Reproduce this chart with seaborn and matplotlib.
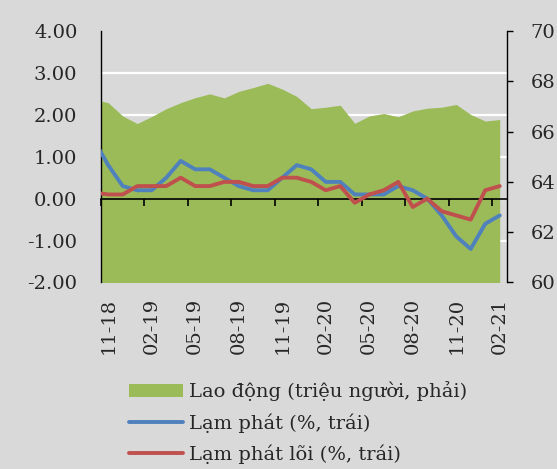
import numpy as np
import pandas as pd
import matplotlib
matplotlib.use("Agg")
import matplotlib.pyplot as plt
import seaborn as sns
from matplotlib.patches import Patch
from matplotlib.lines import Line2D

# monthly data, Oct-18 is only partly visible at the left edge
months = ["10-18", "11-18", "12-18", "01-19", "02-19", "03-19", "04-19", "05-19",
          "06-19", "07-19", "08-19", "09-19", "10-19", "11-19", "12-19", "01-20",
          "02-20", "03-20", "04-20", "05-20", "06-20", "07-20", "08-20", "09-20",
          "10-20", "11-20", "12-20", "01-21", "02-21"]
labor = [67.28, 67.15, 66.62, 66.32, 66.60, 66.91, 67.15, 67.35, 67.50, 67.34,
         67.60, 67.75, 67.92, 67.69, 67.40, 66.91, 66.97, 67.05, 66.33, 66.62,
         66.72, 66.59, 66.82, 66.93, 66.97, 67.08, 66.68, 66.42, 66.48]
inflation = [1.4, 0.8, 0.3, 0.2, 0.2, 0.5, 0.9, 0.7, 0.7, 0.5, 0.3, 0.2, 0.2,
             0.5, 0.8, 0.7, 0.4, 0.4, 0.1, 0.1, 0.1, 0.3, 0.2, 0.0, -0.4,
             -0.9, -1.2, -0.6, -0.4]
core = [0.15, 0.1, 0.1, 0.3, 0.3, 0.3, 0.5, 0.3, 0.3, 0.4, 0.4, 0.3, 0.3,
        0.5, 0.5, 0.4, 0.2, 0.3, -0.1, 0.1, 0.2, 0.4, -0.2, 0.0, -0.3,
        -0.4, -0.5, 0.2, 0.3]
tick_labels = ["11-18", "02-19", "05-19", "08-19", "11-19",
               "02-20", "05-20", "08-20", "11-20", "02-21"]
left_ticks = [-2, -1, 0, 1, 2, 3, 4]
right_ticks = [60, 62, 64, 66, 68, 70]

BG = "#D9D9D9"
GREEN = "#9BBB59"
BLUE = "#4F81BD"
RED = "#C0504D"

sns.set_style("white")
plt.rcParams["font.family"] = ["DejaVu Serif"]
FS = 14

df = pd.DataFrame({"month": months, "labor": labor,
                   "inflation": inflation, "core": core})
# points sit in the middle of each month, month boundaries at integers
df["pos"] = np.arange(len(df)) - 0.5

fig = plt.figure(figsize=(5.57, 4.69), dpi=100, facecolor=BG)
ax = fig.add_axes([0.1813, 0.3977, 0.7289, 0.5362])
ax2 = ax.twinx()
ax.set_zorder(ax2.get_zorder() + 1)
ax.patch.set_visible(False)
ax2.set_facecolor(BG)

# labour force area on the right axis
ax2.fill_between(df["pos"], 60, df["labor"], color=GREEN, lw=0, zorder=2)
ax2.set_ylim(60, 70)
ax2.set_yticks(right_ticks, labels=[str(t) for t in right_ticks], fontsize=FS)
grid_vals = [60 + (v + 2) * 10 / 6 for v in left_ticks]
ax2.set_yticks(grid_vals, minor=True)
ax2.grid(which="minor", axis="y", color="white", lw=1.6)
ax2.set_axisbelow(True)
ax2.tick_params(axis="y", which="major", direction="out", length=4,
                width=1, color="black", pad=13, right=True)
ax2.tick_params(axis="y", which="minor", length=0)
for s in ["left", "top", "bottom"]:
    ax2.spines[s].set_visible(False)
ax2.spines["right"].set_color("black")
ax2.spines["right"].set_linewidth(1)

# inflation lines on the left axis
sns.lineplot(data=df, x="pos", y="inflation", ax=ax, color=BLUE, lw=2.8,
             solid_joinstyle="round", legend=False, zorder=3)
sns.lineplot(data=df, x="pos", y="core", ax=ax, color=RED, lw=2.8,
             solid_joinstyle="round", legend=False, zorder=3)
ax.set_ylim(-2, 4)
ax.set_xlim(0, 28)
ax.set_yticks(left_ticks, labels=[f"{v:.2f}" for v in left_ticks], fontsize=FS)
ax.tick_params(axis="y", length=0, pad=17)
tick_pos = df.loc[df["month"].isin(tick_labels), "pos"]
ax.set_xticks(tick_pos, labels=tick_labels, rotation=90, fontsize=FS)
ax.tick_params(axis="x", length=0, pad=11)
ax.set_xlabel("")
ax.set_ylabel("")
ax2.set_ylabel("")
for s in ["right", "top", "bottom"]:
    ax.spines[s].set_visible(False)
ax.spines["left"].set_color("black")
ax.spines["left"].set_linewidth(1)

# horizontal category axis crossing at zero, ticks every 3 months
zero_axis = ax.secondary_xaxis(1 / 3)
zero_axis.set_xticks(np.arange(0, 28, 3), labels=[])
zero_axis.tick_params(direction="out", length=5, width=1.2, color="black")
zero_axis.spines["bottom"].set_color("black")
zero_axis.spines["bottom"].set_linewidth(1.2)

handles = [Patch(facecolor=GREEN, edgecolor="none"),
           Line2D([], [], color=BLUE, lw=2.8),
           Line2D([], [], color=RED, lw=2.8)]
labels = ["Lao động (triệu người, phải)", "Lạm phát (%, trái)",
          "Lạm phát lõi (%, trái)"]
fig.legend(handles, labels, loc="upper left", bbox_to_anchor=(0.2316, 0.1865),
           frameon=False, fontsize=FS, handlelength=2.8, handletextpad=0.3,
           borderpad=0, borderaxespad=0, labelspacing=0.6)

fig.savefig("out.png", dpi=100, facecolor=BG)
